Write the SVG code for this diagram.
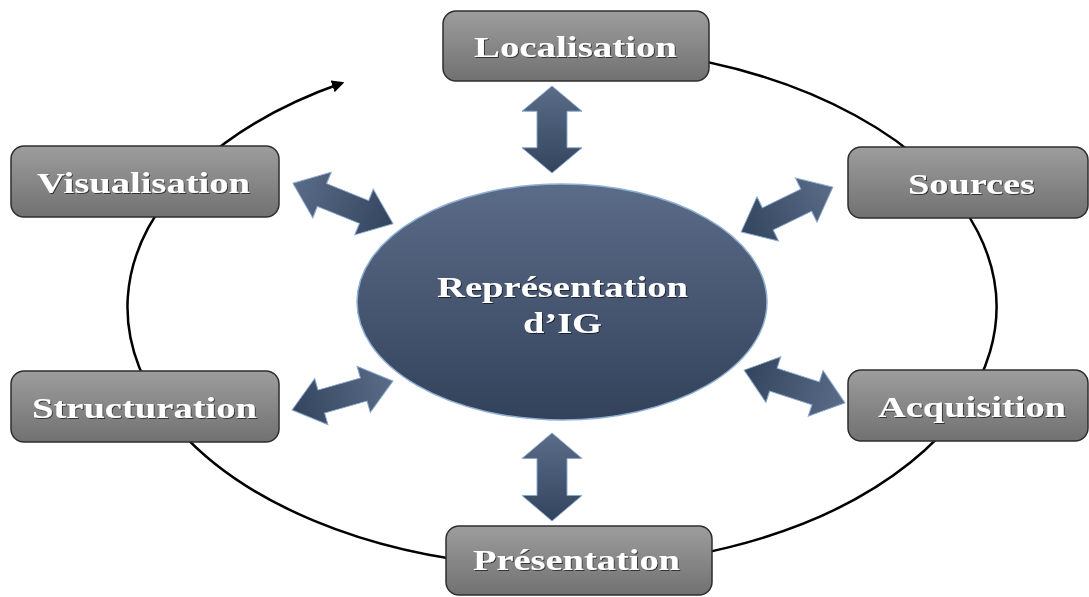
<svg xmlns="http://www.w3.org/2000/svg" width="1089" height="597" viewBox="0 0 1089 597">
<style>
.box{fill:url(#boxGrad);stroke:#2e2e2e;stroke-width:1.5}
.lbl{font-family:"Liberation Serif","Times New Roman",serif;font-weight:bold;font-size:30px;fill:#ffffff;text-anchor:middle}
.arr{fill:url(#arrGrad);stroke:#86a8cf;stroke-width:1}
.cycle{fill:none;stroke:#000;stroke-width:2.5}
</style>
<defs>
<linearGradient id="boxGrad" x1="0" y1="0" x2="0" y2="1">
<stop offset="0" stop-color="#9d9d9d"/>
<stop offset="1" stop-color="#717171"/>
</linearGradient>
<linearGradient id="ellGrad" x1="0" y1="0" x2="0" y2="1">
<stop offset="0" stop-color="#5b6c88"/>
<stop offset="1" stop-color="#33425b"/>
</linearGradient>
<linearGradient id="arrGrad" x1="0" y1="0" x2="1" y2="0">
<stop offset="0" stop-color="#5b6c88"/>
<stop offset="1" stop-color="#33445e"/>
</linearGradient>
<marker id="ah" viewBox="0 0 10 10" refX="8" refY="5" markerWidth="5" markerHeight="5" orient="auto" markerUnits="strokeWidth">
<path d="M0,0 L10,5 L0,10 Z" fill="#000"/>
</marker>
<path id="dbl" d="M-50,0 L-21,-30 L-21,-15 L21,-15 L21,-30 L50,0 L21,30 L21,15 L-21,15 L-21,30 Z"/>
<filter id="sh" x="-10%" y="-10%" width="120%" height="130%">
<feDropShadow dx="1" dy="1" stdDeviation="0.6" flood-color="#000" flood-opacity="0.6"/>
</filter>
</defs>

<g id="connectors">
<path class="cycle" d="M 450 56 A 434.5 260 0 1 1 342 83" marker-end="url(#ah)"/>
<use href="#dbl" class="arr" transform="translate(552,129.5) rotate(90) scale(0.87,1)"/>
<use href="#dbl" class="arr" transform="translate(552,477) rotate(90) scale(0.88,1)"/>
<use href="#dbl" class="arr" transform="translate(343,203.5) rotate(22) scale(1.08,0.82)"/>
<use href="#dbl" class="arr" transform="translate(787,209.5) rotate(154) scale(1.02,0.82)"/>
<use href="#dbl" class="arr" transform="translate(342.5,395.5) rotate(164) scale(1.05,0.8)"/>
<use href="#dbl" class="arr" transform="translate(794.5,386.5) rotate(198) scale(1.06,0.8)"/>
</g>

<g id="center">
<ellipse cx="562" cy="302" rx="205" ry="118" fill="url(#ellGrad)" stroke="#8fb0d4" stroke-width="1.5"/>
<text class="lbl" x="562.5" y="297" textLength="251" lengthAdjust="spacingAndGlyphs" filter="url(#sh)">Représentation</text>
<text class="lbl" x="562.5" y="333" textLength="79" lengthAdjust="spacingAndGlyphs" filter="url(#sh)">d’IG</text>
</g>

<g id="localisation">
<rect class="box" x="443" y="11" width="266" height="70" rx="13"/>
<text class="lbl" x="575.5" y="57" textLength="203" lengthAdjust="spacingAndGlyphs" filter="url(#sh)">Localisation</text>
</g>
<g id="visualisation">
<rect class="box" x="11" y="146" width="268" height="71" rx="13"/>
<text class="lbl" x="143.5" y="193" textLength="213" lengthAdjust="spacingAndGlyphs" filter="url(#sh)">Visualisation</text>
</g>
<g id="sources">
<rect class="box" x="848" y="147" width="240" height="71" rx="13"/>
<text class="lbl" x="971.5" y="194" textLength="127" lengthAdjust="spacingAndGlyphs" filter="url(#sh)">Sources</text>
</g>
<g id="structuration">
<rect class="box" x="11" y="371" width="268" height="71" rx="13"/>
<text class="lbl" x="144.5" y="418" textLength="225" lengthAdjust="spacingAndGlyphs" filter="url(#sh)">Structuration</text>
</g>
<g id="acquisition">
<rect class="box" x="848" y="370" width="240" height="71" rx="13"/>
<text class="lbl" x="972" y="417" textLength="188" lengthAdjust="spacingAndGlyphs" filter="url(#sh)">Acquisition</text>
</g>
<g id="presentation">
<rect class="box" x="446" y="526" width="266" height="69" rx="13"/>
<text class="lbl" x="576.5" y="570" textLength="207" lengthAdjust="spacingAndGlyphs" filter="url(#sh)">Présentation</text>
</g>
</svg>
